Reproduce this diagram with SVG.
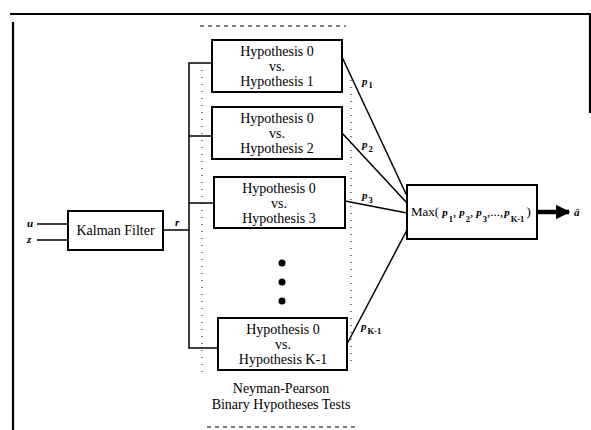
<svg xmlns="http://www.w3.org/2000/svg" width="591" height="430" viewBox="0 0 591 430" font-family="Liberation Serif, DejaVu Serif, serif">
<defs>
<style>
.box{fill:#fff;stroke:#000;stroke-width:2}
.ln{fill:none;stroke:#000;stroke-width:1.5}
.frame{fill:none;stroke:#000;stroke-width:2.2}
.dot{fill:none;stroke:#000;stroke-width:1;stroke-dasharray:1 6}
.dash{fill:none;stroke:#000;stroke-width:1;stroke-dasharray:4 4}
.t{font-size:14px;text-anchor:middle}
.m{font-size:13px}
.i{font-style:italic;font-weight:bold;font-size:11px}
.s{font-style:normal;font-weight:bold;font-size:8.5px}
</style>
<marker id="ah" viewBox="0 0 10 10" refX="9" refY="5" markerWidth="3.6" markerHeight="3.2" orient="auto" markerUnits="strokeWidth">
<path d="M0,0 L10,5 L0,10 z" fill="#000"/>
</marker>
</defs>
<rect width="591" height="430" fill="#fff"/>
<g id="frame">
<path class="frame" d="M10,14 H590 V113"/>
<path class="frame" d="M13,22 V430"/>
<path class="dash" d="M200,26 H346"/>
<path class="dash" d="M207,427 H355"/>
<path class="dot" d="M202,70 V372"/>
<path class="dot" d="M351,80 V366"/>
</g>
<g id="connectors">
<path class="ln" d="M37,224 H68"/>
<path class="ln" d="M37,240 H68"/>
<path class="ln" d="M163,230 H189"/>
<path class="ln" d="M213,63 H189 V348 H218"/>
<path class="ln" d="M189,136 H213"/>
<path class="ln" d="M189,203 H214"/>
<path class="ln" d="M342,57 L407,196"/>
<path class="ln" d="M342,133 L407,203"/>
<path class="ln" d="M345,201 L407,213"/>
<path class="ln" d="M347,344 L407,230"/>
<path d="M538,212 H569" fill="none" stroke="#000" stroke-width="4.5" marker-end="url(#ah)"/>
<text class="i" x="27" y="227">u</text>
<text class="i" x="27" y="243">z</text>
<text class="i" x="175" y="226">r</text>
<text class="i" x="362" y="85">p<tspan class="s" dx="1" dy="3">1</tspan></text>
<text class="i" x="362" y="148">p<tspan class="s" dx="1" dy="4">2</tspan></text>
<text class="i" x="362" y="199">p<tspan class="s" dx="1" dy="4">3</tspan></text>
<text class="i" x="361" y="330">p<tspan class="s" dx="1" dy="4">K-1</tspan></text>
<text class="i" x="574" y="216">â</text>
</g>
<g id="kalman">
<rect class="box" x="68" y="211" width="95" height="39"/>
<text class="t" x="115.5" y="235">Kalman Filter</text>
</g>
<g id="h1">
<rect class="box" x="212" y="40" width="130" height="52"/>
<text class="t" x="277" y="56">Hypothesis 0</text>
<text class="t" x="277" y="71">vs.</text>
<text class="t" x="277" y="86">Hypothesis 1</text>
</g>
<g id="h2">
<rect class="box" x="212" y="107" width="130" height="52"/>
<text class="t" x="277" y="123">Hypothesis 0</text>
<text class="t" x="277" y="138">vs.</text>
<text class="t" x="277" y="153">Hypothesis 2</text>
</g>
<g id="h3">
<rect class="box" x="214" y="177" width="131" height="51"/>
<text class="t" x="279" y="193">Hypothesis 0</text>
<text class="t" x="279" y="208">vs.</text>
<text class="t" x="279" y="223">Hypothesis 3</text>
</g>
<g id="ellipsis">
<circle cx="282" cy="263" r="3.5"/>
<circle cx="282" cy="282" r="3.5"/>
<circle cx="282" cy="301" r="3.5"/>
</g>
<g id="hk">
<rect class="box" x="218" y="318" width="129" height="52"/>
<text class="t" x="283" y="334">Hypothesis 0</text>
<text class="t" x="283" y="349">vs.</text>
<text class="t" x="283" y="364">Hypothesis K-1</text>
</g>
<g id="np-label">
<text class="t" x="281" y="393">Neyman-Pearson</text>
<text class="t" x="281" y="409">Binary Hypotheses Tests</text>
</g>
<g id="max">
<rect class="box" x="407" y="185" width="130" height="54"/>
<text class="m" x="411" y="216">Max(<tspan class="i" dx="3">p</tspan><tspan class="s" dx="1" dy="6">1</tspan><tspan dy="-6">,</tspan><tspan class="i" dx="3">p</tspan><tspan class="s" dx="1" dy="6">2</tspan><tspan dy="-6">,</tspan><tspan class="i" dx="3">p</tspan><tspan class="s" dx="1" dy="6">3</tspan><tspan dy="-6">,...,</tspan><tspan class="i" dx="1">p</tspan><tspan class="s" dx="1" dy="6">K-1</tspan><tspan dx="2" dy="-6">)</tspan></text>
</g>
</svg>
